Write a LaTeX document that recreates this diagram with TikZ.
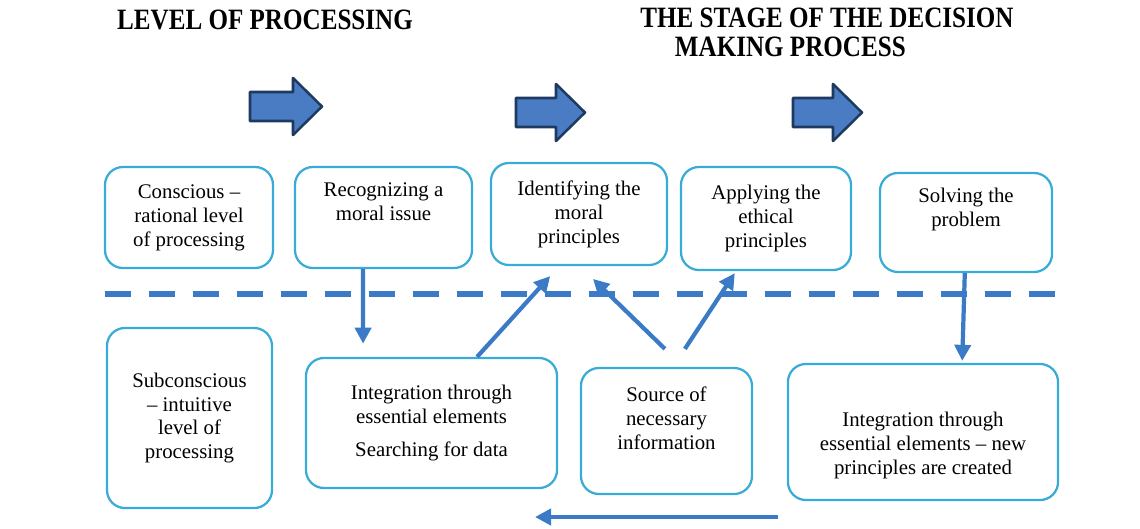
\documentclass[tikz,border=0pt]{standalone}
\usepackage{fontspec}
\setmainfont{Liberation Serif}
\usetikzlibrary{arrows.meta}
\definecolor{boxline}{RGB}{56,172,214}
\definecolor{flowblue}{RGB}{58,122,198}
\definecolor{bigfill}{RGB}{74,124,196}
\definecolor{bigedge}{RGB}{30,58,95}

\begin{document}
\begin{tikzpicture}[x=0.025cm,y=-0.025cm]
        \tikzstyle{every node}=[font=\fontsize{14.8}{17}\selectfont, align=center]
        \tikzstyle{stagebox}=[draw=boxline, line width=1.6pt, rounded corners=0.45cm]
        \tikzstyle{flow}=[draw=flowblue, line width=3pt, -{Triangle[length=0.4cm,width=0.4cm]}]
        \tikzstyle{bigarrow}=[fill=bigfill, draw=bigedge, line width=1.8pt, line join=round]
        \tikzstyle{title}=[font=\fontsize{21}{20}\selectfont\bfseries]

        \useasboundingbox (0,0) rectangle (1140,528);

        \node[title] (lvl) at (265,20) {\scalebox{0.85}[1]{LEVEL OF PROCESSING}};
        \node[title, anchor=north west, inner sep=0pt] (stage) at (640,8) {\scalebox{0.85}[1]{\begin{tabular}{@{}l@{}}THE STAGE OF THE DECISION\\\hspace*{29pt}MAKING PROCESS\end{tabular}}};

        \foreach \ax/\ay/\bl in {250/78/43, 516/84/40, 793/84/40} {
            \draw[bigarrow] (\ax,\ay+14) -- ++(\bl,0) -- ++(0,-14) -- ++(29,28.5) -- ++(-29,28.5) -- ++(0,-14) -- ++(-\bl,0) -- cycle;
        }

        % conscious level
        \node[stagebox, minimum width=4.2cm, minimum height=2.525cm] (consc) at (189,217.5) {Conscious --\\rational level\\of processing};
        \node[stagebox, minimum width=4.425cm, minimum height=2.525cm] (recog) at (383.5,217.5) {Recognizing a\\moral issue\\\strut};
        \node[stagebox, minimum width=4.4cm, minimum height=2.55cm] (ident) at (579,214) {Identifying the\\moral\\principles};
        \node[stagebox, minimum width=4.25cm, minimum height=2.575cm] (apply) at (766,218.5) {Applying the\\ethical\\principles};
        \node[stagebox, minimum width=4.3cm, minimum height=2.475cm] (solve) at (966,222.5) {Solving the\\problem\\\strut};

        \draw[draw=flowblue, line width=4.5pt, dash pattern=on 0.65cm off 0.45cm] (105,294) -- (1057,294);

        % subconscious level
        \node[stagebox, minimum width=4.125cm, minimum height=4.5cm] (subc) at (189.5,418) {Subconscious\\-- intuitive\\level of\\processing};
        \node[stagebox, minimum width=6.275cm, minimum height=3.25cm] (integ) at (431.5,423) {Integration through\\essential elements\\[6pt]Searching for data};
        \node[stagebox, minimum width=4.275cm, minimum height=3.15cm] (source) at (666.5,431) {Source of\\necessary\\information\\[-4pt]\strut};
        \node[stagebox, minimum width=6.75cm, minimum height=3.4cm] (newint) at (923,432) {\strut\\Integration through\\essential elements -- new\\principles are created};

        \draw[flow] ([xshift=-0.51cm]recog.south) -- ([xshift=-1.71cm,yshift=0.33cm]integ.north);
        \draw[flow] ([xshift=1.14cm]integ.north) -- ([xshift=-0.72cm,yshift=-0.25cm]ident.south);
        \draw[flow] ([xshift=-0.04cm,yshift=0.45cm]source.north) -- ([xshift=0.35cm,yshift=-0.32cm]ident.south);
        \draw[flow] ([xshift=0.46cm,yshift=0.45cm]source.north) -- ([xshift=-0.78cm,yshift=-0.05cm]apply.south);
        \draw[flow] ([xshift=-0.03cm]solve.south) -- ([xshift=0.98cm,yshift=0.05cm]newint.north);

        \coordinate (back_0) at (778,517);
        \coordinate (back_1) at (535,517);
        \draw[flow] (back_0) -- (back_1);

\end{tikzpicture}
\end{document}
